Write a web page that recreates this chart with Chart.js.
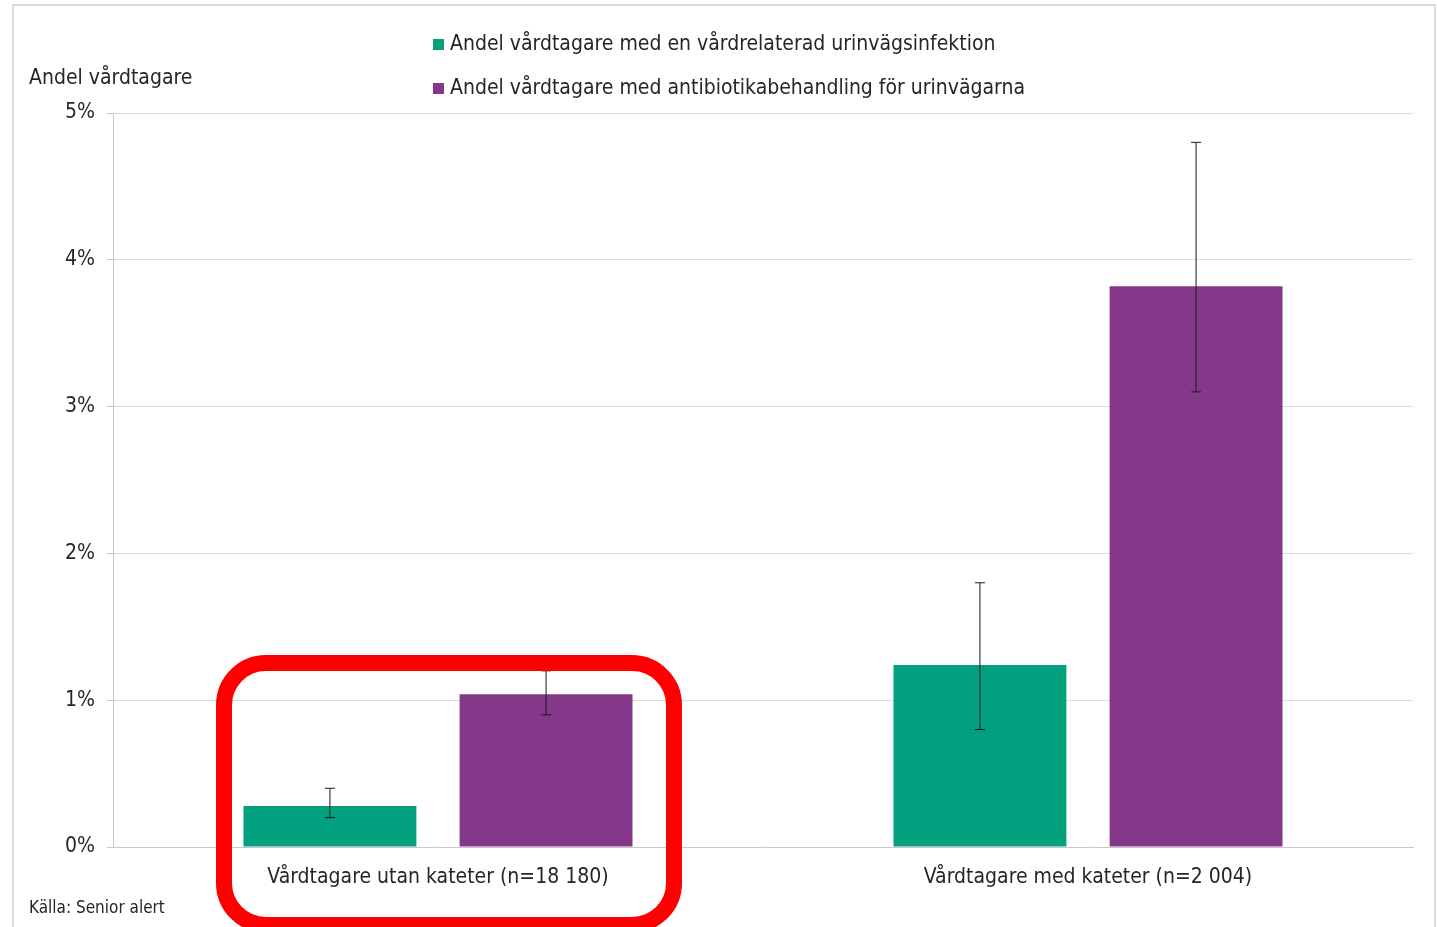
<!DOCTYPE html>
<html lang="sv">
<head>
<meta charset="utf-8">
<script src="https://cdn.jsdelivr.net/npm/chart.js@4"></script>
<style>
  body { margin: 0; background: #fff; font-family: "DejaVu Sans Condensed", "DejaVu Sans", sans-serif; color: #262626; }
  #wrap { position: relative; width: 1437px; height: 927px; overflow: hidden; }
  #frame { position: absolute; left: 12px; top: 4px; width: 1420px; height: 960px; border: 2px solid #d9d9d9; }
  #chartBox { position: absolute; left: 0; top: 0; width: 1437px; height: 927px; }
  .txt { position: absolute; white-space: nowrap; }
  #ytitle { left: 29px; top: 65px; font-size: 21px; }
  #source { left: 29px; top: 897px; font-size: 17px; }
  #legend { position: absolute; left: 433px; top: 31px; font-size: 21px; }
  #legend div { height: 44px; display: flex; align-items: flex-start; }
  #legend span.box { display: inline-block; width: 11px; height: 11px; margin: 8px 6px 0 0; }
</style>
</head>
<body>
<div id="wrap">
  <div id="frame"></div>
  <div id="chartBox"><canvas id="uviChart"></canvas></div>
  <div class="txt" id="ytitle">Andel vårdtagare</div>
  <div id="legend"></div>
  <div class="txt" id="source">Källa: Senior alert</div>
</div>
<script>
const categories = ['Vårdtagare utan kateter (n=18 180)', 'Vårdtagare med kateter (n=2 004)'];
const seriesNames = ['Andel vårdtagare med en vårdrelaterad urinvägsinfektion', 'Andel vårdtagare med antibiotikabehandling för urinvägarna'];
const infektion = [0.28, 1.24];
const infektionLow = [0.2, 0.8];
const infektionHigh = [0.4, 1.8];
const antibiotika = [1.04, 3.82];
const antibiotikaLow = [0.9, 3.1];
const antibiotikaHigh = [1.2, 4.8];
const yTicks = [0, 1, 2, 3, 4, 5];

const teal = '#02a07e';
const purple = '#843889';
const fontFam = '"DejaVu Sans Condensed", "DejaVu Sans", sans-serif';

// felstaplar (konfidensintervall)
const errorBars = {
    id: 'errorBars',
    afterDatasetsDraw(chart) {
        const ctx = chart.ctx;
        const y = chart.scales.y;
        chart.data.datasets.forEach((ds, i) => {
            const meta = chart.getDatasetMeta(i);
            meta.data.forEach((bar, j) => {
                const top = y.getPixelForValue(ds.high[j]);
                const bot = y.getPixelForValue(ds.low[j]);
                ctx.save();
                ctx.strokeStyle = '#1a1a1a';
                ctx.lineWidth = 1;
                ctx.beginPath();
                ctx.moveTo(bar.x, top); ctx.lineTo(bar.x, bot);
                ctx.moveTo(bar.x - 5, top); ctx.lineTo(bar.x + 5, top);
                ctx.moveTo(bar.x - 5, bot); ctx.lineTo(bar.x + 5, bot);
                ctx.stroke();
                ctx.restore();
            });
        });
    }
};

// röd markering runt första gruppen
const highlight = {
    id: 'highlight',
    afterDraw(chart) {
        const ctx = chart.ctx;
        const cx = chart.scales.x.getPixelForValue(0);
        const top = chart.scales.y.getPixelForValue(1.253);
        const left = cx - 214, right = cx + 236, bottom = 925;
        ctx.save();
        ctx.strokeStyle = '#ff0000';
        ctx.lineWidth = 16;
        ctx.beginPath();
        ctx.roundRect(left, top, right - left, bottom - top, 42);
        ctx.stroke();
        ctx.restore();
    }
};

const datasets = [
    { label: seriesNames[0], data: infektion, low: infektionLow, high: infektionHigh, backgroundColor: teal },
    { label: seriesNames[1], data: antibiotika, low: antibiotikaLow, high: antibiotikaHigh, backgroundColor: purple }
];

document.getElementById('legend').innerHTML = datasets.map(d =>
    '<div><span class="box" style="background:' + d.backgroundColor + '"></span>' + d.label + '</div>').join('');

const ctx = document.getElementById('uviChart').getContext('2d');
new Chart(ctx, {
    type: 'bar',
    data: { labels: categories, datasets: datasets },
    plugins: [errorBars, highlight],
    options: {
        responsive: true,
        maintainAspectRatio: false,
        animation: false,
        categoryPercentage: 0.665,
        barPercentage: 0.8,
        layout: { padding: { left: 0, top: 113, right: 24, bottom: 0 } },
        plugins: { legend: { display: false }, tooltip: { enabled: false } },
        scales: {
            x: {
                grid: { display: false, drawTicks: false },
                border: { color: '#c8c8c8', width: 1 },
                ticks: { color: '#262626', padding: 18, font: { family: fontFam, size: 21 } },
                afterFit: s => { s.height = 80; }
            },
            y: {
                min: 0,
                max: 5,
                afterBuildTicks: s => { s.ticks = yTicks.map(v => ({ value: v })); },
                grid: { color: '#dcdcdc', tickLength: 6, tickColor: '#c8c8c8' },
                border: { color: '#c8c8c8', width: 1 },
                ticks: {
                    color: '#262626', padding: 12,
                    font: { family: fontFam, size: 21 },
                    callback: v => v + '%'
                },
                afterFit: s => { s.width = 113; }
            }
        }
    }
});
</script>
</body>
</html>
